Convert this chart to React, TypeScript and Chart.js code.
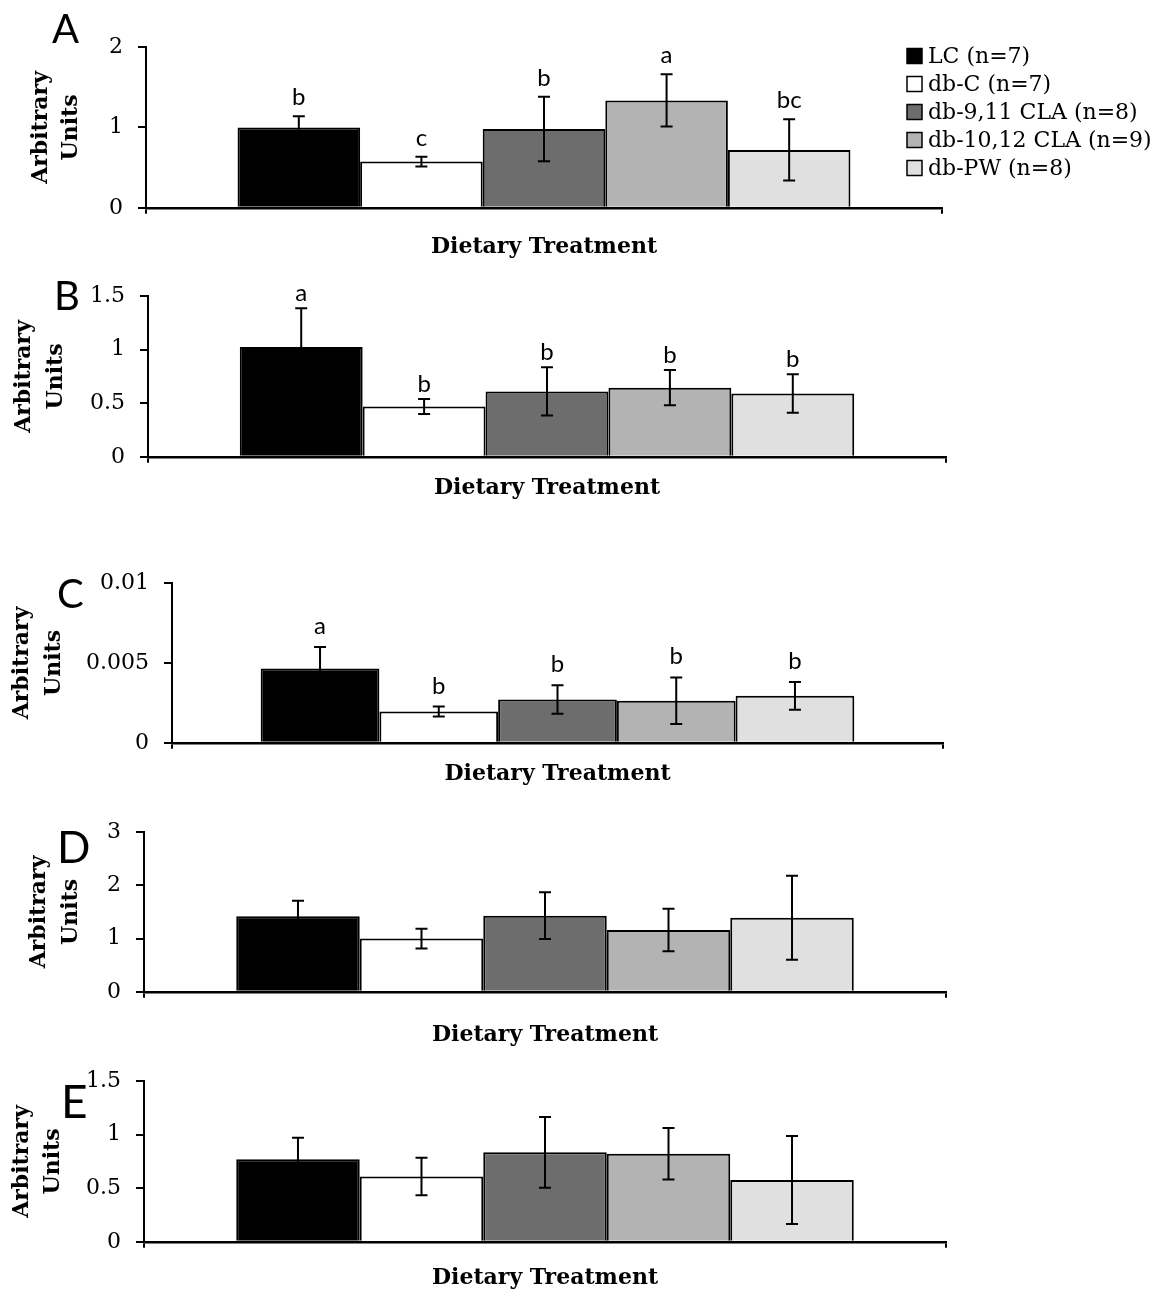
import React, { useEffect, useRef } from 'react';
import { Chart, registerables } from 'chart.js';

Chart.register(...registerables);

// ---------- data ----------
const groupLabels = ['LC (n=7)', 'db-C (n=7)', 'db-9,11 CLA (n=8)', 'db-10,12 CLA (n=9)', 'db-PW (n=8)'];
const categories = [''];
const panelNames = ['A', 'B', 'C', 'D', 'E'];

const meansA = [1.0, 0.575, 0.98, 1.335, 0.72];
const errsA = [0.14, 0.06, 0.4, 0.325, 0.38];
const lettersA = ['b', 'c', 'b', 'a', 'bc'];
const ticksA = [0, 1, 2];

const meansB = [1.025, 0.47, 0.61, 0.645, 0.59];
const errsB = [0.36, 0.07, 0.225, 0.165, 0.18];
const lettersB = ['a', 'b', 'b', 'b', 'b'];
const ticksB = [0, 0.5, 1, 1.5];

const meansC = [0.00465, 0.00196, 0.00271, 0.00263, 0.00294];
const errsC = [0.00135, 0.00031, 0.00089, 0.00146, 0.00087];
const lettersC = ['a', 'b', 'b', 'b', 'b'];
const ticksC = [0, 0.005, 0.01];

const meansD = [1.42, 1.0, 1.43, 1.16, 1.39];
const errsD = [0.29, 0.185, 0.44, 0.4, 0.79];
const lettersD: string[] = [];
const ticksD = [0, 1, 2, 3];

const meansE = [0.77, 0.61, 0.835, 0.822, 0.576];
const errsE = [0.2, 0.175, 0.33, 0.24, 0.41];
const lettersE: string[] = [];
const ticksE = [0, 0.5, 1, 1.5];

const xTitle = 'Dietary Treatment';
const yTitle = ['Arbitrary', 'Units'];

// ---------- styles / layout ----------
const fills = ['#000000', '#ffffff', '#6d6d6d', '#b3b3b3', '#e0e0e0'];
const PAGE_W = 1164;
const PAD_TOP = 45;
const PAD_BOTTOM = 10;
const X_TITLE_SIZE = 22;
const Y_TITLE_SIZE = 22;

type Layout = {
  top: number; zero: number; title: number; axisX: number; right: number;
  ytPad: number; ytLH: number; gap: number;
  tag: { x: number; y: number; size: number };
  legend: boolean;
};

const layouts: Layout[] = [
  { top: 47, zero: 208, title: 247, axisX: 146, right: 942, ytPad: 26, ytLH: 30, gap: 11, tag: { x: 52, y: 43, size: 40 }, legend: true },
  { top: 296, zero: 457, title: 488, axisX: 148, right: 946, ytPad: 8, ytLH: 32, gap: 7, tag: { x: 54, y: 310, size: 40 }, legend: false },
  { top: 583, zero: 743, title: 774, axisX: 172, right: 943, ytPad: 6, ytLH: 32, gap: 13, tag: { x: 57, y: 608, size: 40 }, legend: false },
  { top: 832, zero: 992, title: 1035, axisX: 144, right: 946, ytPad: 24, ytLH: 31.5, gap: 8, tag: { x: 57, y: 863, size: 44 }, legend: false },
  { top: 1081, zero: 1242, title: 1278, axisX: 144, right: 946, ytPad: 6.5, ytLH: 31, gap: 8, tag: { x: 61, y: 1118, size: 46 }, legend: false },
];

const panelData = [
  { means: meansA, errs: errsA, letters: lettersA, ticks: ticksA },
  { means: meansB, errs: errsB, letters: lettersB, ticks: ticksB },
  { means: meansC, errs: errsC, letters: lettersC, ticks: ticksC },
  { means: meansD, errs: errsD, letters: lettersD, ticks: ticksD },
  { means: meansE, errs: errsE, letters: lettersE, ticks: ticksE },
];

const overlayPlugin = {
  id: 'overlay',
  afterDatasetsDraw(chart: any, _args: any, opts: any) {
    const ctx = chart.ctx as CanvasRenderingContext2D;
    const yScale = chart.scales.y;
    ctx.save();
    chart.data.datasets.forEach((_ds: any, i: number) => {
      const meta = chart.getDatasetMeta(i);
      const bar = meta.data[0];
      if (!bar) return;
      const x = bar.x;
      const v = opts.means[i];
      const e = opts.errs[i];
      const yTop = yScale.getPixelForValue(v + e);
      const yBot = yScale.getPixelForValue(v - e);
      ctx.strokeStyle = '#000';
      ctx.lineWidth = 2;
      ctx.beginPath();
      ctx.moveTo(x, yTop);
      ctx.lineTo(x, yBot);
      ctx.moveTo(x - 6, yTop);
      ctx.lineTo(x + 6, yTop);
      ctx.moveTo(x - 6, yBot);
      ctx.lineTo(x + 6, yBot);
      ctx.stroke();
      const letter = opts.letters[i];
      if (letter) {
        ctx.fillStyle = '#000';
        ctx.font = '24px Lato';
        ctx.textAlign = 'center';
        ctx.textBaseline = 'alphabetic';
        ctx.fillText(letter, x, yTop - opts.gap);
      }
    });
    ctx.restore();
  },
  afterDraw(chart: any, _args: any, opts: any) {
    const ctx = chart.ctx as CanvasRenderingContext2D;
    ctx.save();
    // panel tag
    ctx.fillStyle = '#000';
    ctx.font = `${opts.tag.size}px Lato`;
    ctx.textAlign = 'left';
    ctx.textBaseline = 'alphabetic';
    ctx.fillText(opts.name, opts.tag.x, opts.tag.y - opts.offsetY);
    // legend
    if (opts.legend) {
      const x0 = 907;
      const y0 = 56 - opts.offsetY;
      const step = 28;
      ctx.font = '22px "DejaVu Serif"';
      ctx.textBaseline = 'middle';
      chart.data.datasets.forEach((ds: any, i: number) => {
        const cy = y0 + i * step;
        ctx.fillStyle = ds.backgroundColor;
        ctx.fillRect(x0, cy - 7.5, 15, 15);
        ctx.strokeStyle = '#000';
        ctx.lineWidth = 1.5;
        ctx.strokeRect(x0, cy - 7.5, 15, 15);
        ctx.fillStyle = '#000';
        ctx.fillText(ds.label, x0 + 21, cy + 1);
      });
    }
    ctx.restore();
  },
};

function Panel({ idx }: { idx: number }) {
  const ref = useRef<HTMLCanvasElement | null>(null);
  const L = layouts[idx];
  const D = panelData[idx];
  const xH = L.title - L.zero + (X_TITLE_SIZE * 1.2) / 2;
  const canvasTop = L.top - PAD_TOP;
  const canvasH = PAD_TOP + (L.zero - L.top) + xH + PAD_BOTTOM;

  useEffect(() => {
    if (!ref.current) return;
    const chart = new Chart(ref.current, {
      type: 'bar',
      data: {
        labels: categories,
        datasets: groupLabels.map((g, i) => ({
          label: g,
          data: [D.means[i]],
          backgroundColor: fills[i],
          borderColor: '#000',
          borderWidth: 2,
          barPercentage: 1.0,
          categoryPercentage: 0.77,
        })),
      },
      options: {
        animation: false,
        responsive: false,
        maintainAspectRatio: false,
        events: [],
        layout: { padding: { left: 0, top: PAD_TOP, right: PAGE_W - L.right, bottom: PAD_BOTTOM } },
        plugins: {
          legend: { display: false },
          tooltip: { enabled: false },
          overlay: {
            means: D.means,
            errs: D.errs,
            letters: D.letters,
            gap: L.gap,
            tag: L.tag,
            name: panelNames[idx],
            legend: L.legend,
            offsetY: canvasTop,
          },
        } as any,
        scales: {
          x: {
            grid: { display: true, drawOnChartArea: false, drawTicks: true, tickLength: 6, color: '#000', lineWidth: 2, offset: true },
            border: { display: true, color: '#000', width: 2.5 },
            ticks: { display: false },
            title: {
              display: true,
              text: xTitle,
              color: '#000',
              padding: { top: 0, bottom: 0 },
              font: { family: '"DejaVu Serif"', size: X_TITLE_SIZE, weight: 'bold', lineHeight: 1.2 },
            },
            afterFit: (s: any) => { s.height = xH; },
          },
          y: {
            min: D.ticks[0],
            max: D.ticks[D.ticks.length - 1],
            afterBuildTicks: (s: any) => { s.ticks = D.ticks.map((v) => ({ value: v })); },
            grid: { display: true, drawOnChartArea: false, drawTicks: true, tickLength: 8, color: '#000', lineWidth: 2 },
            border: { display: true, color: '#000', width: 2 },
            ticks: {
              color: '#000',
              padding: 15,
              font: { family: '"DejaVu Serif"', size: 22 },
              callback: (v: any) => String(Number(v)),
            },
            title: {
              display: true,
              text: yTitle,
              color: '#000',
              padding: { top: L.ytPad, bottom: 0 },
              font: { family: '"DejaVu Serif"', size: Y_TITLE_SIZE, weight: 'bold', lineHeight: `${L.ytLH}px` },
            },
            afterFit: (s: any) => { s.width = L.axisX; },
          },
        },
      } as any,
      plugins: [overlayPlugin as any],
    });
    return () => chart.destroy();
  }, []);

  return (
    <canvas
      ref={ref}
      width={PAGE_W}
      height={Math.round(canvasH)}
      style={{ position: 'absolute', left: 0, top: canvasTop, width: PAGE_W, height: Math.round(canvasH) }}
    />
  );
}

export default function App() {
  return (
    <div style={{ position: 'absolute', left: 0, top: 0, width: PAGE_W, height: 1290, background: '#fff', overflow: 'hidden' }}>
      {layouts.map((_, i) => (
        <Panel key={i} idx={i} />
      ))}
    </div>
  );
}
